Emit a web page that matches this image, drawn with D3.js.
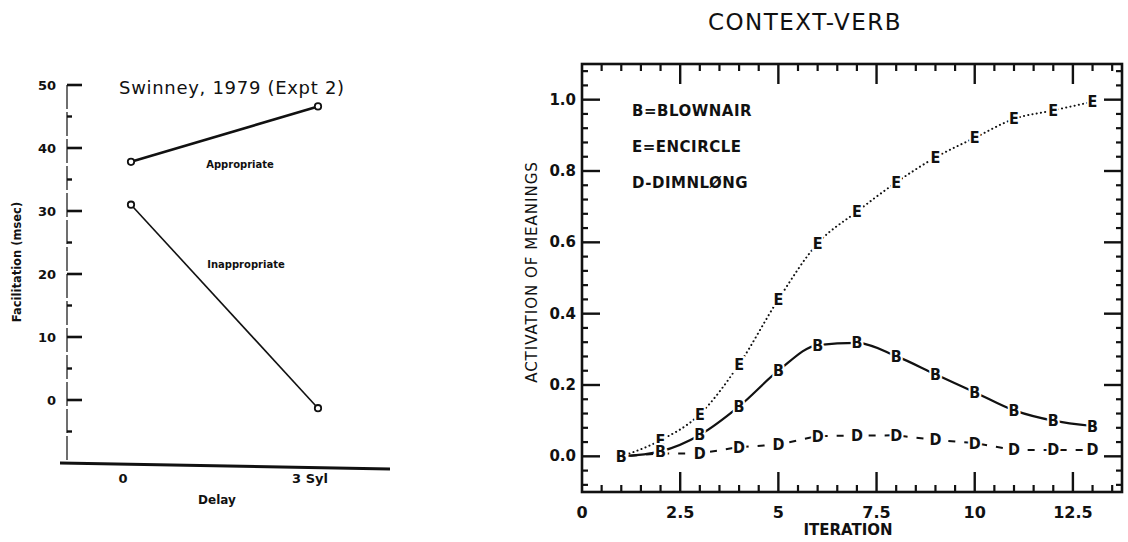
<!DOCTYPE html>
<html>
<head>
<meta charset="utf-8">
<script src="https://cdn.jsdelivr.net/npm/d3@7/dist/d3.min.js"></script>
<style>
  html, body { margin: 0; padding: 0; background: #fff; }
  svg { display: block; }
  text { fill: #111; }
</style>
</head>
<body>
<svg id="chart" width="1128" height="542"></svg>
<script>
// ---------- Left panel data (Swinney, 1979, Expt 2) ----------
const delays = ["0", "3 Syl"];
const appropriate = [37.8, 46.6];
const inappropriate = [31.0, -1.3];
const leftMajorTicks = [50, 40, 30, 20, 10, 0];
const leftMinorTicks = [45, 35, 25, 15, 5, -5];

// ---------- Right panel data (CONTEXT-VERB) ----------
const iterations = [1, 2, 3, 4, 5, 6, 7, 8, 9, 10, 11, 12, 13];
const blownair = [0.0, 0.014, 0.06, 0.14, 0.24, 0.312, 0.318, 0.281, 0.23, 0.18, 0.129, 0.1, 0.085];
const encircle = [0.0, 0.045, 0.118, 0.258, 0.44, 0.597, 0.686, 0.768, 0.838, 0.893, 0.946, 0.97, 0.994];
const dimnlong = [0.0, 0.008, 0.008, 0.026, 0.033, 0.057, 0.058, 0.059, 0.046, 0.037, 0.018, 0.018, 0.018];
const xTickValues = [0, 2.5, 5, 7.5, 10, 12.5];
const xTickLabels = ["0", "2.5", "5", "7.5", "10", "12.5"];
const yTickValues = [0.0, 0.2, 0.4, 0.6, 0.8, 1.0];
const yTickLabels = ["0.0", "0.2", "0.4", "0.6", "0.8", "1.0"];
const legendLabels = ["B=BLOWNAIR", "E=ENCIRCLE", "D-DIMNLØNG"];

const svg = d3.select("#chart");

// ================= LEFT PANEL =================
(function () {
  const g = svg.append("g");
  const y = d3.scaleLinear().domain([-10, 50]).range([463, 85]);
  const x = d3.scalePoint().domain(delays).range([131, 318]);
  const axisX = 67;
  const font = "'DejaVu Sans', sans-serif";

  g.append("line")
    .attr("x1", axisX).attr("x2", axisX)
    .attr("y1", y(50)).attr("y2", y(-10))
    .attr("stroke", "#222").attr("stroke-width", 1.3)
    .attr("stroke-dasharray", "24,3");

  g.selectAll(".lmaj").data(leftMajorTicks).enter().append("line")
    .attr("x1", axisX).attr("x2", axisX + 15)
    .attr("y1", d => y(d)).attr("y2", d => y(d))
    .attr("stroke", "#111").attr("stroke-width", 2.6);
  g.selectAll(".lmin").data(leftMinorTicks).enter().append("line")
    .attr("x1", axisX).attr("x2", axisX + 5)
    .attr("y1", d => y(d)).attr("y2", d => y(d))
    .attr("stroke", "#111").attr("stroke-width", 2.4);

  g.selectAll(".llab").data(leftMajorTicks).enter().append("text")
    .attr("x", 56).attr("y", d => y(d))
    .attr("text-anchor", "end").attr("dominant-baseline", "central")
    .attr("font-family", font).attr("font-weight", "bold").attr("font-size", 13)
    .text(d => d);

  g.append("line")
    .attr("x1", 60).attr("y1", y(-10))
    .attr("x2", 390).attr("y2", y(-10) + 6)
    .attr("stroke", "#111").attr("stroke-width", 3);

  g.selectAll(".xlab").data(delays).enter().append("text")
    .attr("x", d => x(d) - 8).attr("y", 478)
    .attr("text-anchor", "middle").attr("dominant-baseline", "central")
    .attr("font-family", font).attr("font-weight", "bold").attr("font-size", 13)
    .text(d => d);

  g.append("text")
    .attr("x", 217).attr("y", 500)
    .attr("text-anchor", "middle").attr("dominant-baseline", "central")
    .attr("font-family", font).attr("font-weight", "bold").attr("font-size", 12)
    .text("Delay");

  g.append("text")
    .attr("transform", "translate(17,262) rotate(-90)")
    .attr("text-anchor", "middle").attr("dominant-baseline", "central")
    .attr("font-family", font).attr("font-weight", "bold").attr("font-size", 11.5)
    .text("Facilitation (msec)");

  g.append("text")
    .attr("x", 119).attr("y", 94)
    .attr("font-family", font).attr("font-size", 18).attr("letter-spacing", 0.7)
    .text("Swinney, 1979 (Expt 2)");

  const line = d3.line().x((d, i) => x(delays[i])).y(d => y(d));
  g.append("path").datum(appropriate).attr("d", line)
    .attr("fill", "none").attr("stroke", "#111").attr("stroke-width", 2.6);
  g.append("path").datum(inappropriate).attr("d", line)
    .attr("fill", "none").attr("stroke", "#111").attr("stroke-width", 1.6);

  [appropriate, inappropriate].forEach(series => {
    g.selectAll(null).data(series).enter().append("circle")
      .attr("cx", (d, i) => x(delays[i])).attr("cy", d => y(d))
      .attr("r", 3.2).attr("fill", "#fff")
      .attr("stroke", "#111").attr("stroke-width", 1.8);
  });

  g.append("text")
    .attr("x", 240).attr("y", 164)
    .attr("text-anchor", "middle").attr("dominant-baseline", "central")
    .attr("font-family", font).attr("font-weight", "bold").attr("font-size", 10)
    .text("Appropriate");
  g.append("text")
    .attr("x", 246).attr("y", 264)
    .attr("text-anchor", "middle").attr("dominant-baseline", "central")
    .attr("font-family", font).attr("font-weight", "bold").attr("font-size", 10)
    .text("Inappropriate");
})();

// ================= RIGHT PANEL =================
(function () {
  const g = svg.append("g");
  const x = d3.scaleLinear().domain([0, 13.75]).range([582, 1122]);
  const y = d3.scaleLinear().domain([-0.1, 1.1]).range([492, 64]);
  const font = "'DejaVu Sans', sans-serif";
  const [x0, x1] = x.range();
  const [y0, y1] = y.range();

  g.append("rect")
    .attr("x", x0).attr("y", y1)
    .attr("width", x1 - x0).attr("height", y0 - y1)
    .attr("fill", "none").attr("stroke", "#111").attr("stroke-width", 2.6);

  const xMinor = d3.range(0.5, 13.75, 0.5).filter(v => Math.abs(v / 2.5 - Math.round(v / 2.5)) > 1e-6);
  const xMajor = xTickValues.filter(v => v > 0);
  function xt(vals, len, w) {
    g.selectAll(null).data(vals).enter().append("line")
      .attr("x1", d => x(d)).attr("x2", d => x(d))
      .attr("y1", y0).attr("y2", y0 - len)
      .attr("stroke", "#111").attr("stroke-width", w);
    g.selectAll(null).data(vals).enter().append("line")
      .attr("x1", d => x(d)).attr("x2", d => x(d))
      .attr("y1", y1).attr("y2", y1 + len)
      .attr("stroke", "#111").attr("stroke-width", w);
  }
  xt(xMajor, 20, 2.4);
  xt(xMinor, 7, 2.2);

  const yMinor = d3.range(-0.08, 1.1, 0.04).map(v => +v.toFixed(2))
    .filter(v => Math.abs(v * 5 - Math.round(v * 5)) > 1e-6);
  function yt(vals, len, w) {
    g.selectAll(null).data(vals).enter().append("line")
      .attr("x1", x0).attr("x2", x0 + len)
      .attr("y1", d => y(d)).attr("y2", d => y(d))
      .attr("stroke", "#111").attr("stroke-width", w);
    g.selectAll(null).data(vals).enter().append("line")
      .attr("x1", x1).attr("x2", x1 - len)
      .attr("y1", d => y(d)).attr("y2", d => y(d))
      .attr("stroke", "#111").attr("stroke-width", w);
  }
  yt(yTickValues, 18, 2.4);
  yt(yMinor, 6, 2.2);

  g.selectAll(null).data(xTickValues).enter().append("text")
    .attr("x", d => x(d)).attr("y", 512)
    .attr("text-anchor", "middle").attr("dominant-baseline", "central")
    .attr("font-family", font).attr("font-weight", "bold").attr("font-size", 16)
    .text((d, i) => xTickLabels[i]);
  g.selectAll(null).data(yTickValues).enter().append("text")
    .attr("x", 576).attr("y", d => y(d))
    .attr("text-anchor", "end").attr("dominant-baseline", "central")
    .attr("font-family", font).attr("font-size", 15).attr("font-weight", "bold")
    .text((d, i) => yTickLabels[i]);

  g.append("text")
    .attr("x", 848).attr("y", 530)
    .attr("text-anchor", "middle").attr("dominant-baseline", "central")
    .attr("font-family", font).attr("font-weight", "bold").attr("font-size", 15)
    .text("ITERATION");
  g.append("text")
    .attr("transform", "translate(532,272) rotate(-90)")
    .attr("text-anchor", "middle").attr("dominant-baseline", "central")
    .attr("font-family", font).attr("font-size", 15).attr("letter-spacing", 1)
    .text("ACTIVATION OF MEANINGS");

  g.append("text")
    .attr("x", 805).attr("y", 22)
    .attr("text-anchor", "middle").attr("dominant-baseline", "central")
    .attr("font-family", font).attr("font-size", 23).attr("letter-spacing", 1.5)
    .text("CONTEXT-VERB");

  g.selectAll(null).data(legendLabels).enter().append("text")
    .attr("x", 632).attr("y", (d, i) => 111 + i * 36)
    .attr("dominant-baseline", "central")
    .attr("font-family", font).attr("font-weight", "bold").attr("font-size", 15)
    .attr("letter-spacing", 0.5)
    .text(d => d);

  const line = d3.line().x((d, i) => x(iterations[i])).y(d => y(d));
  const curve = d3.line().curve(d3.curveMonotoneX).x((d, i) => x(iterations[i])).y(d => y(d));

  g.append("path").datum(encircle).attr("d", curve)
    .attr("fill", "none").attr("stroke", "#111").attr("stroke-width", 2)
    .attr("stroke-linecap", "round").attr("stroke-dasharray", "0.1,4.2");
  g.append("path").datum(dimnlong).attr("d", line)
    .attr("fill", "none").attr("stroke", "#111").attr("stroke-width", 2)
    .attr("stroke-dasharray", "7,9").attr("stroke-dashoffset", -9);
  g.append("path").datum(blownair).attr("d", curve)
    .attr("fill", "none").attr("stroke", "#111").attr("stroke-width", 2.2);

  function markers(series, letter) {
    g.selectAll(null).data(series).enter().append("text")
      .attr("x", (d, i) => x(iterations[i])).attr("y", d => y(d))
      .attr("text-anchor", "middle").attr("dominant-baseline", "central")
      .attr("font-family", "'DejaVu Sans Condensed','DejaVu Sans', sans-serif")
      .attr("font-weight", "bold").attr("font-size", 16)
      .attr("stroke", "#fff").attr("stroke-width", 4).attr("paint-order", "stroke")
      .attr("fill", "#111")
      .text(letter);
  }
  markers(dimnlong, "D");
  markers(encircle, "E");
  markers(blownair, "B");
})();
</script>
</body>
</html>
